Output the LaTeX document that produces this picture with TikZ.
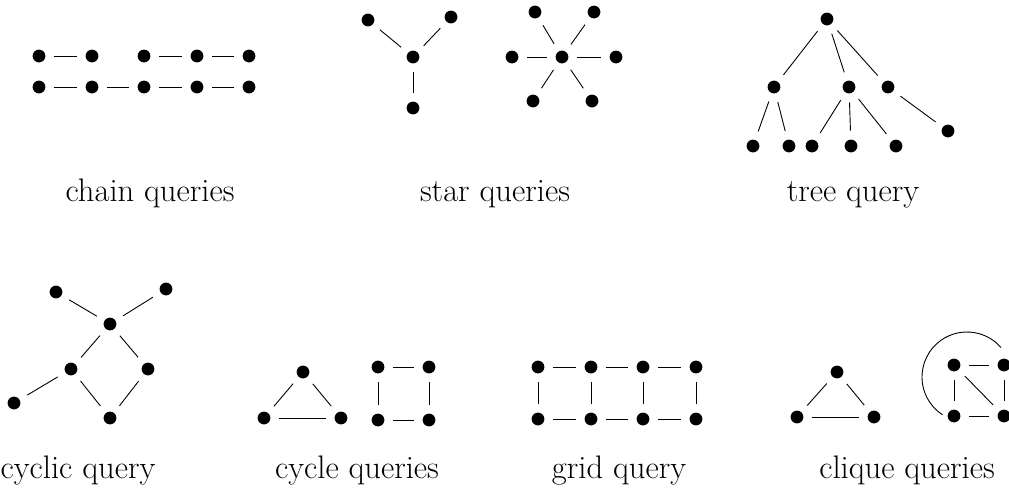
\documentclass[tikz,border=0pt]{standalone}
\begin{document}
\begin{tikzpicture}[x=0.5pt,y=-0.5pt,
  v/.style={circle,fill=black,inner sep=0pt,minimum size=6.4pt},
  e/.style={line width=0.45pt,shorten >=4.3pt,shorten <=4.3pt},
  lab/.style={font=\fontsize{16.3}{19}\selectfont,anchor=base}]
\useasboundingbox (0,0) rectangle (1009,495);
% chain queries
\node[v] (a1) at (39,56) {};
\node[v] (a2) at (92,56) {};
\node[v] (a3) at (144,56) {};
\node[v] (a4) at (197,56) {};
\node[v] (a5) at (249,56) {};
\node[v] (b1) at (39,87) {};
\node[v] (b2) at (92,87) {};
\node[v] (b3) at (144,87) {};
\node[v] (b4) at (197,87) {};
\node[v] (b5) at (249,87) {};
\draw[e] (a1) -- (a2);
\draw[e] (a3) -- (a4);
\draw[e] (a4) -- (a5);
\draw[e] (b1) -- (b2);
\draw[e] (b2) -- (b3);
\draw[e] (b3) -- (b4);
\draw[e] (b4) -- (b5);
% star queries
\node[v] (s1c) at (413,57) {};
\node[v] (s1a) at (368,20) {};
\node[v] (s1b) at (451,17) {};
\node[v] (s1d) at (413,108) {};
\draw[e] (s1c) -- (s1a);
\draw[e] (s1c) -- (s1b);
\draw[e] (s1c) -- (s1d);
\node[v] (s2c) at (562,57) {};
\node[v] (s2l) at (512,57) {};
\node[v] (s2r) at (616,57) {};
\node[v] (s2tl) at (535,12) {};
\node[v] (s2tr) at (594,12) {};
\node[v] (s2bl) at (533,101) {};
\node[v] (s2br) at (592,101) {};
\draw[e] (s2c) -- (s2l);
\draw[e] (s2c) -- (s2r);
\draw[e] (s2c) -- (s2tl);
\draw[e] (s2c) -- (s2tr);
\draw[e] (s2c) -- (s2bl);
\draw[e] (s2c) -- (s2br);
% tree query
\node[v] (t0) at (827,19) {};
\node[v] (t1) at (774,87) {};
\node[v] (t2) at (849,87) {};
\node[v] (t3) at (888,87) {};
\node[v] (t11) at (753,146) {};
\node[v] (t12) at (789,146) {};
\node[v] (t21) at (812,146) {};
\node[v] (t22) at (851,146) {};
\node[v] (t23) at (896,146) {};
\node[v] (t31) at (948,131) {};
\draw[e] (t0) -- (t1);
\draw[e] (t0) -- (t2);
\draw[e] (t0) -- (t3);
\draw[e] (t1) -- (t11);
\draw[e] (t1) -- (t12);
\draw[e] (t2) -- (t21);
\draw[e] (t2) -- (t22);
\draw[e] (t2) -- (t23);
\draw[e] (t3) -- (t31);
% cyclic query
\node[v] (c1) at (56,292) {};
\node[v] (c2) at (166,289) {};
\node[v] (c3) at (110,324) {};
\node[v] (c4) at (71,369) {};
\node[v] (c5) at (148,369) {};
\node[v] (c6) at (14,403) {};
\node[v] (c7) at (110,418) {};
\draw[e] (c1) -- (c3);
\draw[e] (c2) -- (c3);
\draw[e] (c3) -- (c4);
\draw[e] (c3) -- (c5);
\draw[e] (c4) -- (c6);
\draw[e] (c4) -- (c7);
\draw[e] (c5) -- (c7);
% cycle queries
\node[v] (y1) at (303,372) {};
\node[v] (y2) at (264,418) {};
\node[v] (y3) at (341,418) {};
\draw[e] (y1) -- (y2);
\draw[e] (y2) -- (y3);
\draw[e] (y3) -- (y1);
\node[v] (q1) at (378,367) {};
\node[v] (q2) at (429,367) {};
\node[v] (q3) at (429,420) {};
\node[v] (q4) at (378,420) {};
\draw[e] (q1) -- (q2);
\draw[e] (q2) -- (q3);
\draw[e] (q3) -- (q4);
\draw[e] (q4) -- (q1);
% grid query
\node[v] (g1) at (538,367) {};
\node[v] (g2) at (591,367) {};
\node[v] (g3) at (643,367) {};
\node[v] (g4) at (696,367) {};
\node[v] (h1) at (538,419) {};
\node[v] (h2) at (591,419) {};
\node[v] (h3) at (643,419) {};
\node[v] (h4) at (696,419) {};
\draw[e] (g1) -- (g2);
\draw[e] (g2) -- (g3);
\draw[e] (g3) -- (g4);
\draw[e] (h1) -- (h2);
\draw[e] (h2) -- (h3);
\draw[e] (h3) -- (h4);
\draw[e] (g1) -- (h1);
\draw[e] (g2) -- (h2);
\draw[e] (g3) -- (h3);
\draw[e] (g4) -- (h4);
% clique queries
\node[v] (k1) at (837,372) {};
\node[v] (k2) at (797,417) {};
\node[v] (k3) at (874,417) {};
\draw[e] (k1) -- (k2);
\draw[e] (k2) -- (k3);
\draw[e] (k3) -- (k1);
\node[v] (m1) at (954,365) {};
\node[v] (m2) at (1004,365) {};
\node[v] (m3) at (954,416) {};
\node[v] (m4) at (1004,416) {};
\draw[e] (m1) -- (m2);
\draw[e] (m1) -- (m3);
\draw[e] (m1) -- (m4);
\draw[e] (m3) -- (m4);
\draw[e] (m2) -- (m4);
\coordinate (mc) at (967,377);
\draw[line width=0.45pt] ([shift={(-41:45)}]mc) arc[start angle=-41,end angle=-237,radius=45];
% labels
\node[lab] (l1) at (150,201) {chain queries};
\node[lab] (l2) at (495,201) {star queries};
\node[lab] (l3) at (853,201) {tree query};
\node[lab] (l4) at (78,478) {cyclic query};
\node[lab] (l5) at (357,478) {cycle queries};
\node[lab] (l6) at (619,478) {grid query};
\node[lab] (l7) at (907,478) {clique queries};
\end{tikzpicture}
\end{document}
